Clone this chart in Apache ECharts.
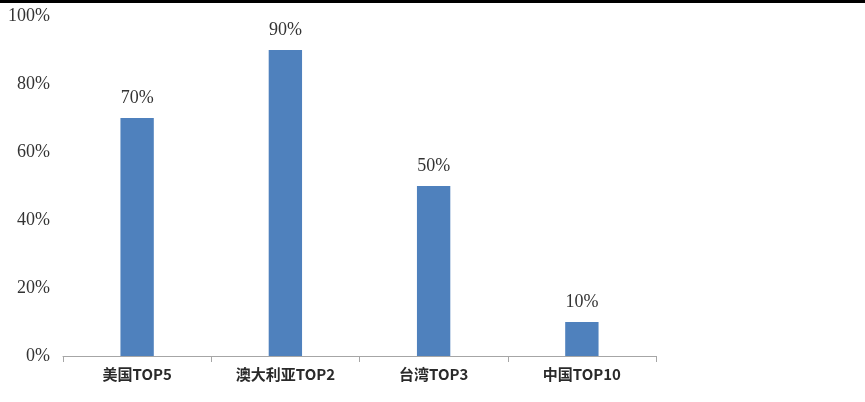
<!DOCTYPE html>
<html>
<head>
<meta charset="utf-8">
<script src="https://cdn.jsdelivr.net/npm/echarts@6/dist/echarts.min.js"></script>
<style>
  html, body { margin: 0; padding: 0; background: #fff; }
  #frame { width: 865px; height: 402px; position: relative; box-sizing: border-box; border-top: 3px solid #000; }
  #chart { position: absolute; left: 0; top: -3px; width: 865px; height: 402px; }
</style>
</head>
<body>
<div id="frame"><div id="chart"></div></div>
<script>
// 各市场占比
const categories = ["美国TOP5", "澳大利亚TOP2", "台湾TOP3", "中国TOP10"];
const shareValues = [70, 90, 50, 10];
const yTicks = [0, 20, 40, 60, 80, 100];

const chart = echarts.init(document.getElementById("chart"));

chart.setOption({
  animation: false,
  grid: { left: 63, right: 209, top: 16, bottom: 46 },
  xAxis: {
    type: "category",
    data: categories,
    axisLine: { lineStyle: { color: "#a6a6a6", width: 1 } },
    axisTick: { show: true, length: 6, lineStyle: { color: "#a6a6a6" } },
    axisLabel: {
      margin: 11,
      color: "#2a2a2a",
      fontSize: 15,
      fontWeight: "bold",
      fontFamily: "Noto Sans CJK SC"
    }
  },
  yAxis: {
    type: "value",
    min: yTicks[0],
    max: yTicks[yTicks.length - 1],
    interval: 20,
    axisLine: { show: false },
    axisTick: { show: false },
    splitLine: { show: false },
    axisLabel: {
      margin: 13,
      color: "#333",
      fontSize: 18,
      fontFamily: "Liberation Serif",
      formatter: "{value}%"
    }
  },
  series: [{
    type: "bar",
    data: shareValues,
    barWidth: "22.5%",
    itemStyle: { color: "#4f81bd" },
    label: {
      show: true,
      position: "top",
      distance: 11,
      color: "#333",
      fontSize: 18,
      fontFamily: "Liberation Serif",
      formatter: "{c}%"
    }
  }]
});
</script>
</body>
</html>
